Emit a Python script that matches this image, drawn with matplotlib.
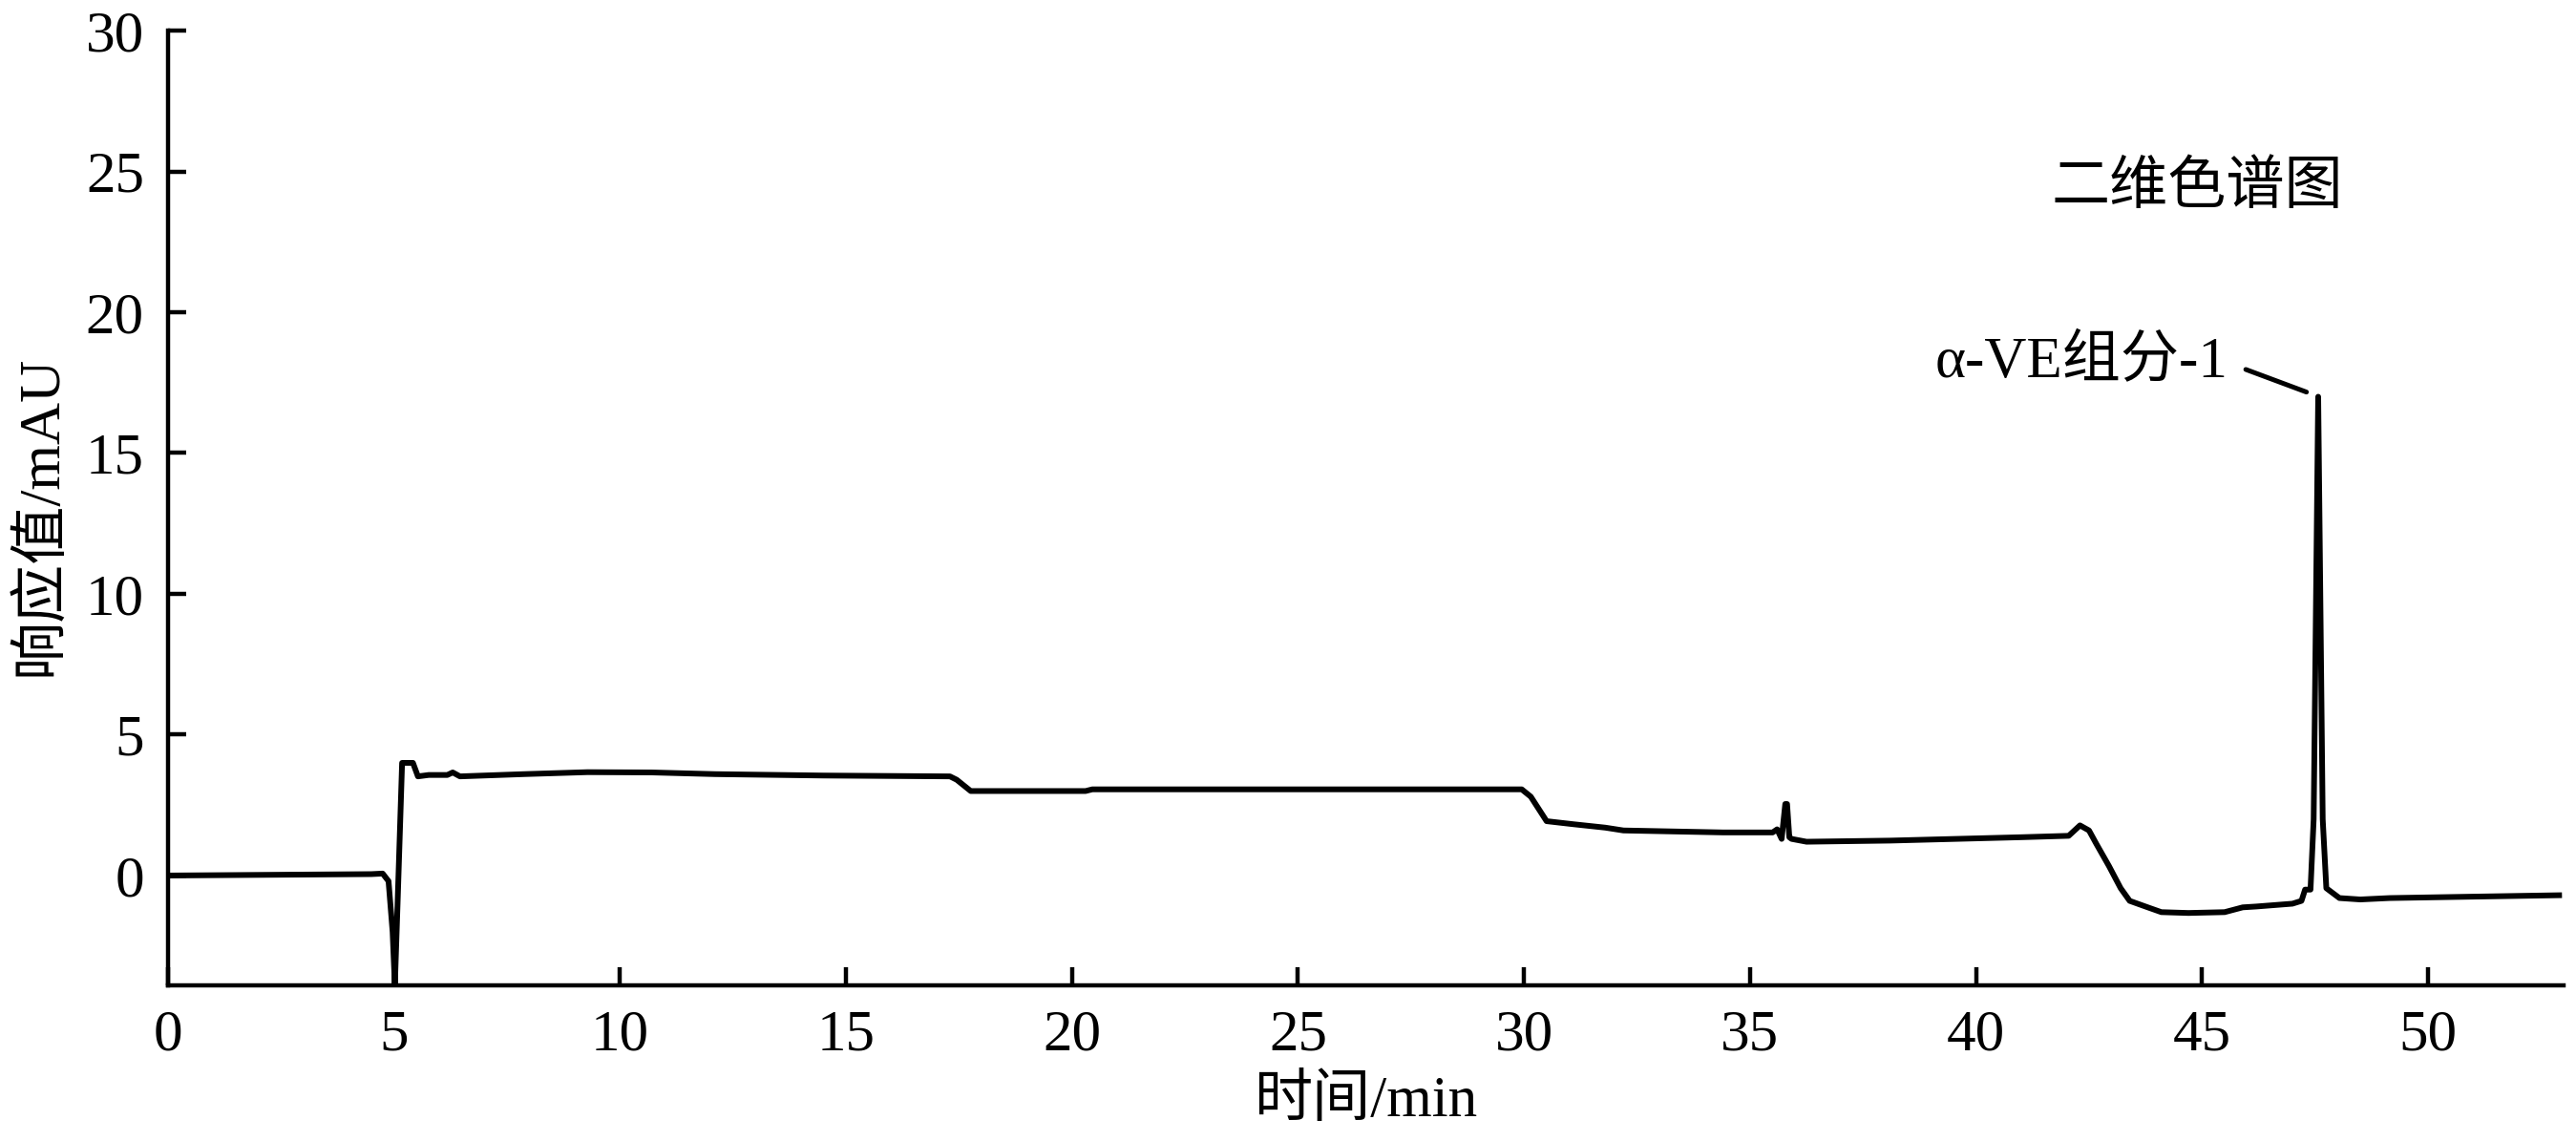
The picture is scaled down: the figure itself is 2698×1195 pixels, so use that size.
import matplotlib
matplotlib.use("Agg")
from matplotlib import pyplot as plt

plt.rcParams['font.family'] = ['Liberation Serif', 'Noto Sans CJK SC']
plt.rcParams['axes.unicode_minus'] = False

# chromatogram trace (time in min, response in mAU)
time_min = [0, 4.5, 4.75, 4.88, 4.97, 5.02, 5.08, 5.18, 5.42, 5.53, 5.77, 6.18,
            6.3, 6.46, 7.87, 9.28, 10.7, 12.1, 14.5, 17.3, 17.45, 17.76, 20.3,
            20.45, 25.0, 29.95, 30.15, 30.5, 31.1, 31.8, 32.2, 34.4, 35.5, 35.6,
            35.7, 35.78, 35.82, 35.87, 35.92, 36.25, 38.1, 41.0, 42.05, 42.3,
            42.5, 42.66, 42.94, 43.2, 43.4, 43.8, 44.1, 44.7, 45.5, 45.9, 46.2,
            47.0, 47.2, 47.28, 47.4, 47.47, 47.57, 47.67, 47.75, 48.04, 48.5,
            49.15, 51.0, 52.9]
response = [0.0, 0.05, 0.07, -0.2, -2.0, -3.9, -1.0, 4.0, 4.0, 3.52, 3.57, 3.57,
            3.66, 3.52, 3.6, 3.67, 3.66, 3.6, 3.55, 3.52, 3.4, 3.0, 3.0,
            3.06, 3.06, 3.06, 2.8, 1.93, 1.82, 1.7, 1.6, 1.53, 1.53, 1.64,
            1.3, 2.54, 2.54, 1.36, 1.3, 1.2, 1.24, 1.36, 1.41, 1.78,
            1.6, 1.13, 0.34, -0.45, -0.9, -1.13, -1.3, -1.33, -1.3, -1.13, -1.1,
            -1.0, -0.9, -0.5, -0.5, 2.0, 17.0, 2.0, -0.45, -0.8, -0.85,
            -0.8, -0.75, -0.7]

x_ticks = [0, 5, 10, 15, 20, 25, 30, 35, 40, 45, 50]
y_ticks = [0, 5, 10, 15, 20, 25, 30]
peak_label = "α-VE组分-1"
peak_pos = (47.42, 17.1)

fig = plt.figure(figsize=(26.98, 11.95), dpi=100)
ax = fig.add_axes([0.0652, 0.1364, 0.93, 0.8368])

ax.plot(time_min, response, color='black', lw=4.3, solid_joinstyle='round')

ax.set_xlim(0, 53)
ax.set_ylim(-3.9, 30)
ax.set_xticks(x_ticks)
ax.set_yticks(y_ticks)

for s in ['top', 'right']:
    ax.spines[s].set_visible(False)
for s in ['left', 'bottom']:
    ax.spines[s].set_linewidth(3.2)
ax.tick_params(direction='in', length=14, width=3.2, labelsize=44, pad=18)

fig.text(0.530, 0.034, "时间/min", ha='center', va='center', fontsize=44)
fig.text(0.016, 0.548, "响应值/mAU", ha='center', va='center', rotation=90, fontsize=44)

ax.text(44.9, 24.4, "二维色谱图", ha='center', va='center', fontsize=44)
ax.annotate(peak_label, xy=peak_pos, xytext=(45.58, 18.2), ha='right', va='center',
            fontsize=44,
            arrowprops=dict(arrowstyle='-', lw=3.6, color='black',
                            relpos=(1, 0.5), shrinkA=12, shrinkB=4))

fig.savefig("out.png", dpi=100)
